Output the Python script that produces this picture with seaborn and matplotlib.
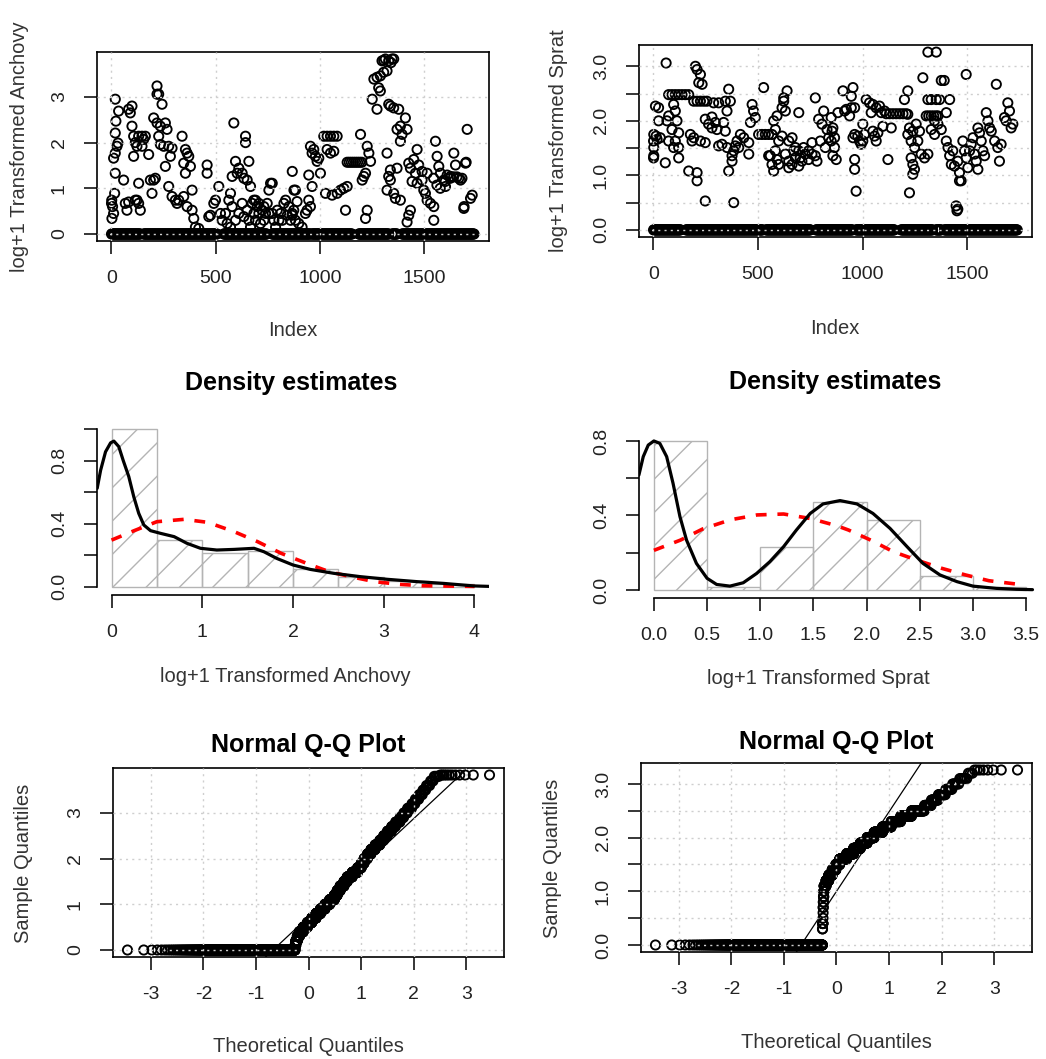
"""
Log+1 transformed anchovy and sprat catches:
index plots, density estimates and normal Q-Q plots (R base-graphics look).
"""

import numpy as np
import pandas as pd
import matplotlib
matplotlib.use("Agg")
import matplotlib.pyplot as plt
import seaborn as sns
from statistics import NormalDist

FIG_W, FIG_H = 1046, 1059
N_OBS = 1740

anchovy_idx = [
    2, 1, 3, 6, 11, 16, 19, 11, 19, 27, 19, 22, 19, 35, 32, 59, 67, 83, 75, 99,
    83, 91, 99, 107, 115, 107, 123, 131, 147, 155, 163, 147, 131, 123, 131, 139, 115, 179, 187, 195,
    203, 211, 219, 219, 227, 243, 203, 219, 235, 259, 267, 227, 235, 251, 275, 291, 283, 259, 275, 291,
    307, 323, 315, 339, 355, 363, 371, 347, 355, 379, 387, 347, 363, 387, 395, 403, 419, 459, 459, 467,
    475, 499, 491, 515, 523, 531, 547, 563, 579, 571, 579, 587, 595, 603, 611, 627, 635, 643, 643, 651,
    659, 667, 675, 683, 691, 699, 707, 723, 731, 747, 755, 763, 771, 755, 795, 803, 811, 835, 843, 867,
    867, 875, 555, 571, 595, 611, 627, 635, 651, 659, 667, 683, 691, 707, 715, 731, 739, 771, 779, 787,
    819, 827, 851, 859, 882, 890, 874, 866, 882, 898, 914, 946, 954, 962, 970, 978, 986, 994, 1002, 962,
    946, 954, 938, 930, 1018, 1034, 1050, 1066, 1082, 1034, 1050, 1066, 1026, 1058, 1082, 1098, 1114, 1130, 1122, 1130,
    1140, 1150, 1160, 1170, 1180, 1190, 1200, 1194, 1202, 1210, 1218, 1226, 1234, 1242, 1226, 1218, 1258, 1273, 1289, 1297,
    1313, 1329, 1353, 1321, 1305, 1281, 1289, 1250, 1273, 1329, 1337, 1353, 1377, 1409, 1385, 1369, 1393, 1385, 1417, 1321,
    1337, 1329, 1337, 1321, 1353, 1369, 1361, 1385, 1425, 1433, 1449, 1465, 1473, 1457, 1441, 1465, 1489, 1497, 1505, 1513,
    1529, 1545, 1545, 1433, 1425, 1417, 1513, 1489, 1553, 1561, 1569, 1577, 1593, 1601, 1609, 1625, 1641, 1649, 1665, 1673,
    1697, 1705, 1721, 1729, 1689, 1544, 1560, 1576, 1600, 1624, 1640, 1656, 1680, 1690, 1700, 1305, 1340, 1345,
]
anchovy_val = [
    0.74, 0.67, 0.34, 0.60, 0.45, 0.89, 1.33, 1.66, 1.77, 1.92, 2.21, 2.47, 2.95, 2.69, 1.99, 1.18, 0.67, 0.70, 0.52, 2.80,
    2.73, 2.65, 2.36, 2.14, 2.00, 1.70, 1.92, 2.14, 2.14, 2.07, 2.14, 1.92, 1.11, 0.74, 0.67, 0.52, 0.74, 1.74, 1.18, 0.89,
    1.18, 1.22, 3.24, 3.06, 3.06, 2.84, 2.54, 2.43, 2.36, 2.43, 2.29, 2.14, 1.96, 1.92, 1.92, 1.88, 1.70, 1.48, 1.04, 0.82,
    0.74, 0.74, 0.67, 2.14, 1.85, 1.77, 1.70, 1.55, 1.33, 1.48, 0.96, 0.82, 0.60, 0.52, 0.34, 0.15, 0.12, 1.51, 1.33, 0.38,
    0.41, 0.74, 0.67, 1.04, 0.45, 0.30, 0.45, 0.74, 0.60, 0.89, 1.26, 2.43, 1.59, 1.33, 1.44, 1.33, 1.22, 2.14, 2.00, 1.18,
    1.59, 1.04, 0.67, 0.45, 0.74, 0.60, 0.45, 0.52, 0.30, 0.67, 0.96, 1.11, 1.11, 0.45, 0.52, 0.30, 0.45, 0.74, 0.41, 1.37,
    0.45, 0.96, 0.23, 0.15, 0.30, 0.45, 0.67, 0.38, 0.52, 0.30, 0.15, 0.74, 0.30, 0.67, 0.23, 0.60, 0.45, 0.45, 0.30, 0.15,
    0.30, 0.67, 0.60, 0.30, 0.96, 0.71, 0.52, 0.41, 0.30, 0.23, 0.15, 1.29, 1.92, 1.77, 1.85, 1.70, 1.59, 1.66, 1.33, 1.04,
    0.74, 0.60, 0.52, 0.45, 2.14, 2.14, 2.14, 2.14, 2.14, 1.85, 1.77, 1.81, 0.89, 0.85, 0.89, 0.96, 1.00, 1.04, 0.52, 1.57,
    1.57, 1.57, 1.57, 1.57, 1.57, 1.57, 1.57, 2.18, 1.18, 1.26, 1.33, 1.92, 1.77, 1.59, 0.52, 0.34, 3.39, 3.43, 3.46, 3.79,
    3.83, 3.79, 3.83, 3.57, 3.54, 3.20, 3.13, 2.95, 2.73, 2.84, 2.80, 2.76, 2.73, 2.54, 2.36, 2.29, 2.18, 2.03, 2.29, 1.77,
    1.40, 1.26, 1.18, 0.96, 0.89, 1.44, 0.78, 0.74, 1.55, 1.44, 1.63, 1.85, 1.51, 1.33, 1.15, 1.11, 1.18, 0.96, 0.89, 0.74,
    0.67, 0.60, 0.30, 0.52, 0.41, 0.26, 1.33, 1.37, 2.03, 1.70, 1.48, 1.33, 1.18, 1.04, 1.29, 1.26, 1.77, 1.51, 1.22, 1.18,
    1.55, 2.29, 0.78, 0.85, 0.56, 1.22, 1.07, 1.00, 1.15, 1.22, 1.25, 1.25, 1.22, 0.60, 1.57, 3.80, 3.75, 3.83,
]
anchovy_zero_spans = [(1, 139), (155, 506), (538, 746), (770, 953), (961, 1153),
                      (1185, 1329), (1345, 1369), (1393, 1740)]

sprat_idx = [
    61, 10, 25, 25, 65, 13, 33, 2, 18, 1, 2, 1, 2, 57, 121, 73, 89, 105, 121, 137,
    153, 169, 97, 105, 73, 113, 89, 121, 105, 73, 97, 121, 185, 193, 177, 225, 248, 169, 209, 209,
    201, 209, 225, 217, 233, 193, 209, 225, 241, 256, 248, 264, 280, 304, 296, 280, 336, 344, 288, 312,
    344, 368, 352, 360, 312, 328, 352, 376, 384, 400, 416, 432, 456, 472, 479, 487, 464, 392, 408, 248,
    384, 360, 376, 456, 527, 503, 519, 535, 551, 567, 559, 583, 599, 575, 591, 615, 623, 639, 623, 631,
    647, 663, 679, 695, 702, 718, 726, 742, 758, 774, 695, 774, 790, 806, 814, 830, 838, 854, 798, 822,
    631, 647, 663, 679, 695, 710, 742, 758, 782, 647, 671, 591, 599, 615, 583, 551, 567, 575,
    850, 858, 882, 906, 914, 938, 946, 954, 946, 962, 922, 866, 858, 874, 850, 866, 962, 954, 977, 1001,
    962, 962, 969, 993, 985, 1001, 1009, 1017, 1033, 1049, 1065, 1081, 1089, 1041, 1105, 1057, 1065, 1049, 1073, 1097,
    1121, 1137, 1113, 1129, 1145, 1161, 1177, 1193, 1208, 1216, 1200, 1216, 1224, 1216, 1240, 1256, 1272, 1232, 1248, 1232,
    1240, 1248, 1240, 1224, 1280, 1264, 1296, 1312, 1288, 1312, 1352, 1376, 1390, 1312, 1328, 1352, 1368, 1416, 1304, 1316,
    1328, 1340, 1352, 1360, 1344, 1328, 1360, 1376, 1400, 1344, 1400, 1408, 1416, 1431, 1424, 1439, 1455, 1463, 1471, 1447,
    1455, 1451, 1479, 1487, 1495, 1503, 1495, 1511, 1519, 1527, 1535, 1543, 1551, 1551, 1559, 1567, 1575, 1583, 1591, 1599,
    1607, 1615, 1631, 1639, 1654, 1646, 1662, 1678, 1686, 1694, 1702, 1710, 1718, 1463,
]
sprat_val = [
    3.06, 2.27, 2.24, 2.00, 2.00, 1.72, 1.69, 1.75, 1.66, 1.63, 1.36, 1.32, 1.51, 1.23, 1.32, 2.48, 2.48, 2.48, 2.48, 2.48,
    2.48, 2.48, 2.30, 2.18, 2.09, 2.00, 1.84, 1.78, 1.63, 1.63, 1.51, 1.51, 1.63, 1.69, 1.75, 1.63, 1.60, 1.08, 1.05, 0.90,
    3.00, 2.94, 2.85, 2.70, 2.67, 2.36, 2.36, 2.36, 2.36, 2.36, 2.03, 1.94, 1.87, 1.84, 1.97, 2.07, 1.97, 1.81, 2.33, 2.33,
    2.36, 2.36, 2.18, 2.58, 1.54, 1.57, 1.51, 1.36, 1.45, 1.63, 1.75, 1.69, 1.60, 2.30, 2.18, 2.06, 1.97, 1.54, 1.51, 0.53,
    0.50, 1.08, 1.26, 1.39, 2.61, 1.75, 1.75, 1.75, 1.75, 1.75, 1.36, 1.45, 1.20, 2.00, 2.09, 2.24, 2.42, 2.55, 2.36, 2.18,
    1.63, 1.69, 1.51, 1.45, 1.32, 1.51, 1.39, 1.45, 1.60, 1.36, 2.15, 2.42, 2.03, 1.94, 2.18, 1.84, 1.69, 1.81, 1.63, 1.51,
    1.39, 1.26, 1.20, 1.32, 1.17, 1.26, 1.29, 1.39, 1.26, 1.14, 1.45, 1.29, 1.63, 1.72, 1.84, 1.36, 1.20, 1.08,
    2.06, 1.87, 2.15, 2.55, 2.18, 2.09, 2.24, 2.61, 2.45, 2.24, 2.21, 1.51, 1.36, 1.29, 1.63, 1.69, 1.75, 1.69, 1.72, 1.94,
    1.29, 1.11, 0.71, 1.57, 1.63, 1.63, 1.75, 2.39, 2.33, 2.30, 2.24, 2.27, 2.15, 2.15, 2.18, 1.72, 1.63, 1.81, 1.78, 1.90,
    1.29, 1.87, 2.13, 2.13, 2.13, 2.13, 2.13, 2.13, 2.13, 2.55, 2.39, 2.12, 1.87, 1.75, 1.81, 1.94, 1.81, 1.63, 1.51, 1.32,
    1.20, 1.11, 1.02, 0.68, 1.39, 1.63, 1.32, 1.39, 2.79, 3.26, 3.26, 2.74, 2.74, 2.39, 2.39, 2.39, 2.39, 2.39, 2.09, 2.09,
    2.09, 2.09, 2.09, 2.09, 2.00, 1.84, 1.94, 1.84, 2.15, 1.75, 1.63, 1.51, 1.36, 1.45, 1.20, 1.17, 1.26, 1.05, 0.90, 0.44,
    0.38, 0.35, 1.63, 1.45, 1.32, 1.14, 2.85, 1.45, 1.57, 1.69, 1.39, 1.26, 1.11, 1.87, 1.78, 1.63, 1.45, 1.36, 2.15, 2.00,
    1.87, 1.81, 1.63, 2.67, 1.26, 1.51, 1.57, 2.06, 2.00, 2.33, 2.18, 1.87, 1.94, 0.90,
]
sprat_zero_spans = [(1, 132), (156, 522), (538, 753), (777, 953), (969, 1152),
                    (1184, 1335), (1351, 1375), (1391, 1740)]

# ---- middle row: histogram densities and the two fitted curves ----
anchovy_breaks = [0.0, 0.5, 1.0, 1.5, 2.0, 2.5, 3.0, 3.5, 4.0]
anchovy_density = [1.0, 0.296, 0.216, 0.225, 0.11, 0.064, 0.036, 0.02]
anchovy_kde_x = [-0.158, -0.12, -0.066, -0.01, 0.026, 0.08, 0.13, 0.19, 0.246, 0.30,
                 0.356, 0.43, 0.54, 0.69, 0.83, 0.98, 1.16, 1.35, 1.57, 1.68,
                 1.82, 2.0, 2.19, 2.45, 2.74, 3.04, 3.37, 3.66, 3.99, 4.16]
anchovy_kde_y = [0.625, 0.74, 0.857, 0.914, 0.925, 0.89, 0.80, 0.70, 0.57, 0.466,
                 0.392, 0.356, 0.339, 0.318, 0.276, 0.244, 0.233, 0.237, 0.244, 0.222,
                 0.18, 0.138, 0.11, 0.085, 0.064, 0.047, 0.032, 0.021, 0.005, 0.002]
anchovy_norm_x = [0.0, 0.25, 0.5, 0.8, 1.06, 1.35, 1.61, 1.87, 2.17, 2.4,
                  2.64, 2.9, 3.17, 3.43, 3.7, 4.0]
anchovy_norm_y = [0.296, 0.356, 0.413, 0.428, 0.409, 0.35, 0.286, 0.212, 0.144, 0.095,
                  0.063, 0.032, 0.015, 0.006, 0.004, 0.002]

sprat_breaks = [0.0, 0.5, 1.0, 1.5, 2.0, 2.5, 3.0, 3.5]
sprat_density = [0.8, 0.018, 0.233, 0.474, 0.376, 0.077, 0.015]
sprat_kde_x = [-0.141, -0.10, -0.053, 0.0, 0.056, 0.12, 0.18, 0.245, 0.307, 0.40,
               0.50, 0.59, 0.715, 0.84, 0.966, 1.09, 1.22, 1.34, 1.47, 1.59,
               1.75, 1.91, 2.06, 2.22, 2.38, 2.53, 2.69, 2.85, 3.0, 3.22, 3.41, 3.56]
sprat_kde_y = [0.617, 0.716, 0.778, 0.80, 0.787, 0.716, 0.573, 0.394, 0.268, 0.143,
               0.063, 0.030, 0.021, 0.039, 0.089, 0.152, 0.233, 0.322, 0.411, 0.462,
               0.48, 0.462, 0.411, 0.331, 0.233, 0.143, 0.081, 0.045, 0.021, 0.009, 0.004, 0.002]
sprat_norm_x = [0.0, 0.25, 0.46, 0.72, 0.97, 1.22, 1.47, 1.72, 1.83, 2.05,
                2.25, 2.47, 2.71, 2.93, 3.15, 3.41]
sprat_norm_y = [0.213, 0.268, 0.328, 0.377, 0.403, 0.408, 0.384, 0.345, 0.322, 0.265,
                0.206, 0.161, 0.116, 0.081, 0.05, 0.032]

# ---- bottom row: the sorted samples, as value levels and how many fall on each ----
anchovy_levels = [0.0, 0.1, 0.2, 0.3, 0.4, 0.5, 0.6, 0.7, 0.8, 0.9,
                  1.0, 1.1, 1.2, 1.3, 1.4, 1.5, 1.6, 1.7, 1.8, 1.9,
                  2.0, 2.1, 2.2, 2.3, 2.4, 2.5, 2.6, 2.7, 2.8, 2.9,
                  3.0, 3.1, 3.2, 3.3, 3.4, 3.5, 3.6, 3.7, 3.8, 3.83]
anchovy_counts = [692, 10, 19, 27, 50, 55, 57, 57, 57, 57,
                  57, 56, 33, 33, 41, 34, 48, 48, 30, 22,
                  24, 24, 26, 26, 19, 17, 17, 14, 14, 10,
                  9, 9, 6, 6, 5, 4, 4, 3, 4, 11]
sprat_levels = [0.0, 0.3, 0.4, 0.5, 0.6, 0.7, 0.8, 0.9, 1.0, 1.1,
                1.2, 1.3, 1.4, 1.5, 1.6, 1.7, 1.8, 1.9, 2.0, 2.1,
                2.2, 2.3, 2.4, 2.5, 2.6, 2.7, 2.8, 2.9, 3.0, 3.1,
                3.2, 3.26]
sprat_counts = [684, 2, 5, 1, 1, 2, 2, 4, 4, 25,
                35, 45, 48, 50, 92, 88, 82, 78, 75, 80,
                72, 66, 60, 51, 20, 16, 13, 9, 7, 6,
                3, 8]

TEXT = "#222222"
RING = dict(marker="o", s=44, facecolor="none", edgecolor="black",
            linewidth=1.35, legend=False)


def panel(fig, left, top, right, bottom):
    """Axes placed by pixel box (top-left origin)."""
    return fig.add_axes([left / FIG_W, 1 - bottom / FIG_H,
                         (right - left) / FIG_W, (bottom - top) / FIG_H])


def r_range(lo, hi):
    pad = 0.04 * (hi - lo)
    return lo - pad, hi + pad


def r_axes(ax, box=True):
    ax.tick_params(bottom=True, left=True, top=False, right=False,
                   direction="out", length=9.5, width=1.1, pad=11.5,
                   labelsize=14, labelcolor=TEXT, color="black")
    for side, sp in ax.spines.items():
        sp.set_color("black")
        sp.set_linewidth(1.2)
        if not box and side in ("top", "right"):
            sp.set_visible(False)
    if box:
        ax.set_axisbelow(False)
        ax.grid(True, color="#cfcfcf", linestyle=(0, (1.5, 3)), linewidth=1.0)
    else:
        ax.grid(False)
    ax.set(xlabel="", ylabel="")


def rotate_ylabels(ax):
    for t in ax.get_yticklabels():
        t.set_rotation(90)
        t.set_va("center")


def fig_text(fig, x, y, s, **kw):
    fig.text(x / FIG_W, 1 - y / FIG_H, s, ha="center", va="center", **kw)


def index_panel(fig, box, idx, val, spans, yticks, ylabels):
    zero_idx = np.concatenate([np.arange(a, b + 1, 3) for a, b in spans])
    df = pd.DataFrame({
        "idx": np.concatenate([zero_idx, idx]),
        "val": np.concatenate([np.zeros(len(zero_idx)), val]),
    })
    ax = panel(fig, *box)
    sns.scatterplot(data=df, x="idx", y="val", ax=ax, **RING)
    ax.set_xlim(*r_range(1, N_OBS))
    ax.set_ylim(*r_range(0, df["val"].max()))
    ax.set_xticks([0, 500, 1000, 1500])
    ax.set_yticks(yticks)
    ax.set_yticklabels(ylabels)
    r_axes(ax)
    rotate_ylabels(ax)
    return ax


def density_panel(fig, box, breaks, dens, kx, ky, nx, ny, xticks, xlabels, yticks, ylabels):
    ax = panel(fig, *box)
    hist = pd.DataFrame({
        "mid": [(a + b) / 2 for a, b in zip(breaks[:-1], breaks[1:])],
        "dens": dens,
    })
    sns.histplot(data=hist, x="mid", weights="dens", bins=list(breaks), ax=ax,
                 fill=False, color="#b4b4b4", hatch="/", linewidth=1.0)
    sns.lineplot(x=nx, y=ny, ax=ax, color="#ff0000", linewidth=2.6,
                 linestyle=(0, (3, 3)), estimator=None, sort=False)
    sns.lineplot(x=kx, y=ky, ax=ax, color="black", linewidth=2.3,
                 estimator=None, sort=False)
    ax.set_xlim(*r_range(breaks[0], breaks[-1]))
    ax.set_ylim(*r_range(0, max(dens)))
    ax.set_xticks(xticks)
    ax.set_xticklabels(xlabels)
    ax.set_yticks(yticks)
    ax.set_yticklabels(ylabels)
    r_axes(ax, box=False)
    ax.spines["bottom"].set_bounds(xticks[0], xticks[-1])
    ax.spines["left"].set_bounds(yticks[0], yticks[-1])
    ax.spines["bottom"].set_position(("outward", 1.5))
    rotate_ylabels(ax)
    return ax


def qq_panel(fig, box, levels, counts, yticks, ylabels):
    sample = np.repeat(levels, counts)
    n = len(sample)
    nd = NormalDist()
    theo = np.array([nd.inv_cdf((i - 0.5) / n) for i in range(1, n + 1)])
    ax = panel(fig, *box)
    sns.scatterplot(x=theo, y=sample, ax=ax, **RING)
    # qqline: through the first and third quartiles
    q1, q3 = np.quantile(sample, [0.25, 0.75])
    t1, t3 = nd.inv_cdf(0.25), nd.inv_cdf(0.75)
    slope = (q3 - q1) / (t3 - t1)
    icpt = q1 - slope * t1
    xlim = r_range(theo.min(), theo.max())
    sns.lineplot(x=list(xlim), y=[icpt + slope * xlim[0], icpt + slope * xlim[1]],
                 ax=ax, color="black", linewidth=0.9, estimator=None, sort=False)
    ax.set_xlim(*xlim)
    ax.set_ylim(*r_range(sample.min(), sample.max()))
    ax.set_xticks([-3, -2, -1, 0, 1, 2, 3])
    ax.set_yticks(yticks)
    ax.set_yticklabels(ylabels)
    r_axes(ax)
    rotate_ylabels(ax)
    return ax


def main():
    sns.set_theme(style="white")
    plt.rcParams["font.family"] = ["Liberation Sans", "DejaVu Sans"]
    plt.rcParams["axes.unicode_minus"] = False

    fig = plt.figure(figsize=(FIG_W / 100, FIG_H / 100), dpi=100)

    # top row
    index_panel(fig, (97, 52, 489, 241), anchovy_idx, anchovy_val, anchovy_zero_spans,
                [0, 1, 2, 3], ["0", "1", "2", "3"])
    index_panel(fig, (639, 45, 1032, 237), sprat_idx, sprat_val, sprat_zero_spans,
                [0, 0.5, 1.0, 1.5, 2.0, 2.5, 3.0],
                ["0.0", "", "1.0", "", "2.0", "", "3.0"])
    lab = dict(fontsize=14.5, color="#333333")
    fig_text(fig, 20, 147, "log+1 Transformed Anchovy", rotation=90, **lab)
    fig_text(fig, 293, 330, "Index", **lab)
    fig_text(fig, 558, 141, "log+1 Transformed Sprat", rotation=90, **lab)
    fig_text(fig, 835, 328, "Index", **lab)

    # middle row
    density_panel(fig, (97, 423, 489, 593), anchovy_breaks, anchovy_density,
                  anchovy_kde_x, anchovy_kde_y, anchovy_norm_x, anchovy_norm_y,
                  [0, 1, 2, 3, 4], ["0", "1", "2", "3", "4"],
                  [0, 0.2, 0.4, 0.6, 0.8, 1.0], ["0.0", "", "0.4", "", "0.8", ""])
    density_panel(fig, (639, 435, 1041, 596), sprat_breaks, sprat_density,
                  sprat_kde_x, sprat_kde_y, sprat_norm_x, sprat_norm_y,
                  [0, 0.5, 1.0, 1.5, 2.0, 2.5, 3.0, 3.5],
                  ["0.0", "0.5", "1.0", "1.5", "2.0", "2.5", "3.0", "3.5"],
                  [0, 0.2, 0.4, 0.6, 0.8], ["0.0", "", "0.4", "", "0.8"])
    title = dict(fontsize=18, fontweight="bold", color="black")
    fig_text(fig, 291, 383, "Density estimates", **title)
    fig_text(fig, 835, 382, "Density estimates", **title)
    fig_text(fig, 285, 677, "log+1 Transformed Anchovy", **lab)
    fig_text(fig, 818, 678, "log+1 Transformed Sprat", **lab)

    # bottom row
    qq_panel(fig, (113, 768, 504, 957), anchovy_levels, anchovy_counts,
             [0, 1, 2, 3], ["0", "1", "2", "3"])
    qq_panel(fig, (641, 763, 1032, 952), sprat_levels, sprat_counts,
             [0, 0.5, 1.0, 1.5, 2.0, 2.5, 3.0],
             ["0.0", "", "1.0", "", "2.0", "", "3.0"])
    fig_text(fig, 308, 745, "Normal Q-Q Plot", **title)
    fig_text(fig, 836, 742, "Normal Q-Q Plot", **title)
    fig_text(fig, 308, 1046, "Theoretical Quantiles", **lab)
    fig_text(fig, 24, 863, "Sample Quantiles", rotation=90, **lab)
    fig_text(fig, 836, 1042, "Theoretical Quantiles", **lab)
    fig_text(fig, 552, 858, "Sample Quantiles", rotation=90, **lab)

    fig.savefig("out.png", dpi=100)
    plt.close(fig)


if __name__ == "__main__":
    main()
